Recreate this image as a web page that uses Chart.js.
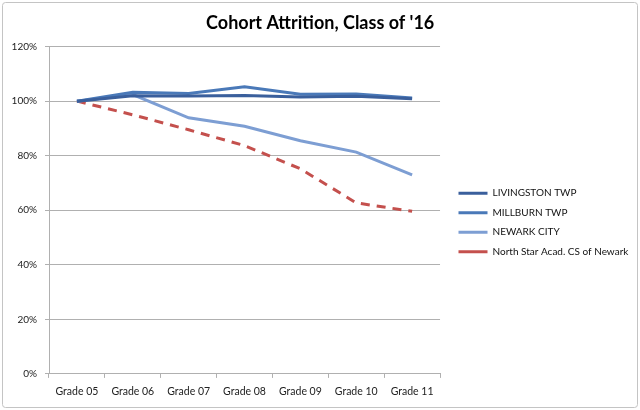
<!DOCTYPE html>
<html>
<head>
<meta charset="utf-8">
<script src="https://cdn.jsdelivr.net/npm/chart.js@4"></script>
<style>
  html, body { margin: 0; padding: 0; background: #fff; }
  #wrap { width: 640px; height: 410px; position: relative; }
</style>
</head>
<body>
<div id="wrap"><canvas id="lineChart" width="640" height="410"></canvas></div>
<script>
// datos
const grados = ['Grade 05', 'Grade 06', 'Grade 07', 'Grade 08', 'Grade 09', 'Grade 10', 'Grade 11'];
const livingston = [100, 102.0, 101.9, 102.1, 101.5, 101.8, 100.9];
const millburn = [100, 103.3, 102.8, 105.3, 102.5, 102.6, 101.2];
const newarkCity = [100, 102.4, 93.9, 90.8, 85.5, 81.3, 73.0];
const northStar = [100, 95.0, 89.5, 83.7, 75.2, 62.7, 59.6];
const nombres = ['LIVINGSTON TWP', 'MILLBURN TWP', 'NEWARK CITY', 'North Star Acad. CS of Newark'];

const fuente = 'Lato, "Open Sans", sans-serif';

// marco gris alrededor del grafico
const marco = {
  id: 'marco',
  beforeDraw(chart) {
    const c = chart.ctx;
    c.save();
    c.fillStyle = '#fff';
    c.fillRect(0, 0, chart.width, chart.height);
    c.strokeStyle = '#c4c4c4';
    c.lineWidth = 1;
    c.beginPath();
    c.roundRect(2.5, 2.5, chart.width - 5, chart.height - 5, 3);
    c.stroke();
    c.restore();
  }
};

// colocar la leyenda donde esta en la imagen
const moverLeyenda = {
  id: 'moverLeyenda',
  afterLayout(chart) {
    const lg = chart.legend;
    const w = lg.right - lg.left;
    const h = lg.bottom - lg.top;
    lg.left = 449;
    lg.right = 449 + w;
    lg.top = 222.5 - h / 2;
    lg.bottom = lg.top + h;
  }
};

const ctx = document.getElementById('lineChart').getContext('2d');
const chartt = new Chart(ctx, {
  type: 'line',
  data: {
    labels: grados,
    datasets: [
      { label: nombres[0], data: livingston, borderColor: '#3A5F9C', backgroundColor: '#3A5F9C' },
      { label: nombres[1], data: millburn, borderColor: '#4A79B8', backgroundColor: '#4A79B8' },
      { label: nombres[2], data: newarkCity, borderColor: '#7D9ED3', backgroundColor: '#7D9ED3' },
      { label: nombres[3], data: northStar, borderColor: '#C4504D', backgroundColor: '#C4504D', borderDash: [9, 7] },
    ].map(d => Object.assign({ borderWidth: 3, pointRadius: 0, tension: 0, fill: false }, d)),
  },
  options: {
    responsive: false,
    animation: false,
    devicePixelRatio: 1,
    layout: { padding: { left: 11, right: 10.6, top: 0, bottom: 5.5 } },
    plugins: {
      title: {
        display: true,
        text: "Cohort Attrition, Class of '16",
        color: '#000',
        font: { family: fuente, size: 18, weight: 'bold' },
        padding: { top: 12, bottom: 13 },
      },
      legend: {
        position: 'right',
        maxWidth: 240,
        labels: {
          usePointStyle: true,
          pointStyle: 'line',
          pointStyleWidth: 29,
          padding: 9.5,
          color: '#111',
          font: { family: fuente, size: 10 },
        },
      },
      tooltip: { enabled: false },
    },
    scales: {
      x: {
        offset: true,
        grid: { display: true, offset: true, drawOnChartArea: false, drawTicks: true, tickLength: 4, color: '#b0b0b0' },
        border: { color: '#b0b0b0' },
        ticks: { color: '#222', padding: 7, font: { family: fuente, size: 10.5 } },
      },
      y: {
        min: 0,
        max: 120,
        afterFit: (scale) => { scale.width = 38; },
        grid: { color: '#b0b0b0', tickLength: 4 },
        border: { color: '#b0b0b0' },
        ticks: { stepSize: 20, color: '#222', padding: 8, font: { family: fuente, size: 10 }, callback: v => v + '%' },
      },
    },
  },
  plugins: [marco, moverLeyenda],
});
</script>
</body>
</html>
